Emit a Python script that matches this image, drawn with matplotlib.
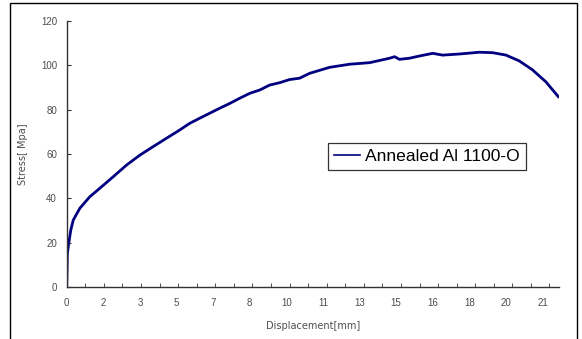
import matplotlib
matplotlib.use('Agg')
import matplotlib.pyplot as plt
from matplotlib.patches import Rectangle

# tensile test
disp = [0, 0.03, 0.09, 0.18, 0.29, 0.58, 1.02, 1.46, 2.05, 2.63, 3.22, 3.80, 4.39,
        4.97, 5.41, 5.85, 6.73, 7.18, 7.61, 8.05, 8.49, 8.92, 9.37, 9.80, 10.24,
        10.68, 11.56, 12.44, 13.32, 14.20, 14.42, 14.63, 15.07, 15.51, 15.95, 16.10,
        16.53, 17.27, 18.15, 18.73, 19.32, 19.90, 20.48, 21.07, 21.62]
stress = [0, 15.3, 19.8, 25.8, 30.3, 35.6, 40.8, 44.6, 49.8, 55.0, 59.5, 63.3, 67.1,
          70.8, 73.8, 76.1, 80.6, 82.8, 85.1, 87.3, 88.8, 91.0, 92.1, 93.5, 94.1,
          96.3, 99.0, 100.4, 101.1, 103.1, 103.8, 102.6, 103.1, 104.1, 105.0, 105.3,
          104.5, 105.0, 105.8, 105.6, 104.5, 101.9, 97.9, 92.5, 85.8]

# category style axis labels (excel rounded them)
x_labels = ['0', '2', '3', '5', '7', '8', '10', '11', '13', '15', '16', '18', '20', '21']
y_ticks = [0, 20, 40, 60, 80, 100, 120]

fig = plt.figure(figsize=(5.82, 3.39), dpi=100)
ax = fig.add_axes([0.1146, 0.1525, 0.8459, 0.7865])

ax.plot(disp, stress, color='#000080', lw=2.0, label='Annealed Al 1100-O')

ax.set_xlim(0, 21.65)
ax.set_ylim(0, 120)

lab_step = 1.6095
ax.set_xticks([i * lab_step for i in range(len(x_labels))])
ax.set_xticklabels(x_labels)
ax.set_xticks([i * 0.8166 for i in range(27)], minor=True)
ax.set_yticks(y_ticks)

for s in ['top', 'right']:
    ax.spines[s].set_visible(False)
for s in ['left', 'bottom']:
    ax.spines[s].set_color('#333333')
    ax.spines[s].set_linewidth(1.0)

ax.tick_params(axis='x', which='major', length=0, pad=8, labelsize=7,
               labelcolor='#4d4d4d', labelfontfamily='Liberation Sans')
ax.tick_params(axis='x', which='minor', direction='in', length=3, color='#333333')
ax.tick_params(axis='y', direction='in', length=3, pad=7, labelsize=7,
               color='#333333', labelcolor='#4d4d4d', labelfontfamily='Liberation Sans')

ax.set_xlabel('Displacement[mm]', fontsize=7, color='#4d4d4d', family='DejaVu Sans')
ax.set_ylabel('Stress[ Mpa]', fontsize=7, color='#4d4d4d', family='DejaVu Sans')
ax.xaxis.set_label_coords(0.5, -0.126)
ax.yaxis.set_label_coords(-0.0796, 0.5)

leg = ax.legend(loc='upper left', bbox_to_anchor=(328.3 / 582, 1 - 143.3 / 339),
                bbox_transform=fig.transFigure, borderaxespad=0, fancybox=False,
                framealpha=1, edgecolor='#333333', prop={'family': 'Liberation Sans', 'size': 12.6},
                handlelength=1.5, handletextpad=0.3, borderpad=0.32)
leg.get_frame().set_linewidth(0.9)
leg.get_lines()[0].set_linewidth(1.2)

# chart area border
fig.add_artist(Rectangle((10 / 582, -0.05), 567 / 582, 1.05 - 2.7 / 339,
                         transform=fig.transFigure, fill=False, edgecolor='black', lw=1.0))

fig.savefig('out.png', dpi=100)
